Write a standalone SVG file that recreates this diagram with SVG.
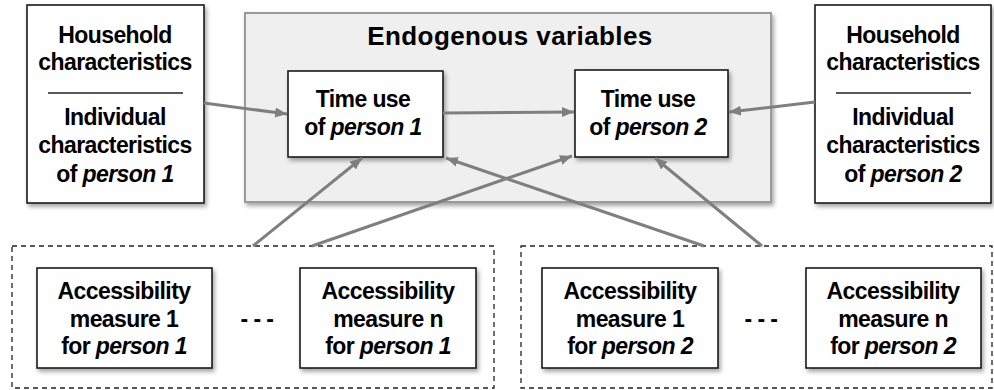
<svg xmlns="http://www.w3.org/2000/svg" width="994" height="390" viewBox="0 0 994 390">
<defs>
<filter id="sh" x="-10%" y="-10%" width="125%" height="130%">
<feDropShadow dx="2" dy="3" stdDeviation="2" flood-color="#000" flood-opacity="0.35"/>
</filter>
<marker id="ah" markerUnits="userSpaceOnUse" markerWidth="14" markerHeight="12" refX="12" refY="5" orient="auto">
<path d="M0,0 L12,5 L0,10 z" fill="#7f7f7f"/>
</marker>
</defs>
<style>
.box{fill:#fff;stroke:#1a1a1a;stroke-width:1.6}
.grp{fill:#efefef;stroke:#9a9a9a;stroke-width:2}
.dash{fill:none;stroke:#222;stroke-width:1.3;stroke-dasharray:5,4}
.t{font-family:"Liberation Sans",Arial,sans-serif;font-weight:bold;font-size:23px;letter-spacing:-0.6px;fill:#000;text-anchor:middle}
.ttl{font-family:"Liberation Sans",Arial,sans-serif;font-weight:bold;font-size:26px;letter-spacing:0.4px;fill:#000;text-anchor:middle}
.i{font-style:italic}
.sep{stroke:#222;stroke-width:1.3}
.c{fill:none;stroke:#7f7f7f;stroke-width:3;marker-end:url(#ah)}
</style>
<rect width="994" height="390" fill="#fff"/>

<g id="endogenous">
<rect class="grp" x="245" y="13" width="526" height="189" filter="url(#sh)"/>
<text class="ttl" x="510" y="45">Endogenous variables</text>
</g>

<g id="chars1">
<rect class="box" x="27" y="5" width="177" height="198" filter="url(#sh)"/>
<text class="t" x="115" y="43">Household</text>
<text class="t" x="115" y="70">characteristics</text>
<line class="sep" x1="48" y1="93" x2="183" y2="93"/>
<text class="t" x="115" y="125">Individual</text>
<text class="t" x="115" y="153">characteristics</text>
<text class="t" x="115" y="182">of <tspan class="i">person 1</tspan></text>
</g>

<g id="chars2">
<rect class="box" x="815" y="5" width="176" height="198" filter="url(#sh)"/>
<text class="t" x="903" y="43">Household</text>
<text class="t" x="903" y="70">characteristics</text>
<line class="sep" x1="836" y1="93" x2="971" y2="93"/>
<text class="t" x="903" y="125">Individual</text>
<text class="t" x="903" y="153">characteristics</text>
<text class="t" x="903" y="182">of <tspan class="i">person 2</tspan></text>
</g>

<g id="time1">
<rect class="box" x="288" y="71" width="155" height="86" filter="url(#sh)"/>
<text class="t" x="363" y="107">Time use</text>
<text class="t" x="363" y="135">of <tspan class="i">person 1</tspan></text>
</g>

<g id="time2">
<rect class="box" x="575" y="70" width="153" height="87" filter="url(#sh)"/>
<text class="t" x="648" y="107">Time use</text>
<text class="t" x="648" y="135">of <tspan class="i">person 2</tspan></text>
</g>

<g id="access1">
<rect class="dash" x="12" y="246" width="482" height="142"/>
<rect class="box" x="37" y="268" width="175" height="100" filter="url(#sh)"/>
<text class="t" x="124" y="299">Accessibility</text>
<text class="t" x="124" y="327">measure 1</text>
<text class="t" x="124" y="354">for <tspan class="i">person 1</tspan></text>
<text class="t" x="257" y="327">- - -</text>
<rect class="box" x="300" y="268" width="176" height="100" filter="url(#sh)"/>
<text class="t" x="388" y="299">Accessibility</text>
<text class="t" x="388" y="327">measure n</text>
<text class="t" x="388" y="354">for <tspan class="i">person 1</tspan></text>
</g>

<g id="access2">
<rect class="dash" x="521" y="246" width="471" height="142"/>
<rect class="box" x="542" y="268" width="176" height="100" filter="url(#sh)"/>
<text class="t" x="630" y="299">Accessibility</text>
<text class="t" x="630" y="327">measure 1</text>
<text class="t" x="630" y="354">for <tspan class="i">person 2</tspan></text>
<text class="t" x="761" y="327">- - -</text>
<rect class="box" x="806" y="268" width="175" height="100" filter="url(#sh)"/>
<text class="t" x="893" y="299">Accessibility</text>
<text class="t" x="893" y="327">measure n</text>
<text class="t" x="893" y="354">for <tspan class="i">person 2</tspan></text>
</g>

<g id="connectors">
<line class="c" x1="204" y1="103" x2="287" y2="114"/>
<line class="c" x1="443" y1="113" x2="574" y2="112"/>
<line class="c" x1="815" y1="102" x2="729" y2="112"/>
<line class="c" x1="253" y1="246" x2="362" y2="158"/>
<line class="c" x1="312" y1="246" x2="572" y2="156"/>
<line class="c" x1="704" y1="246" x2="446" y2="158"/>
<line class="c" x1="762" y1="246" x2="655" y2="158"/>
</g>
</svg>
